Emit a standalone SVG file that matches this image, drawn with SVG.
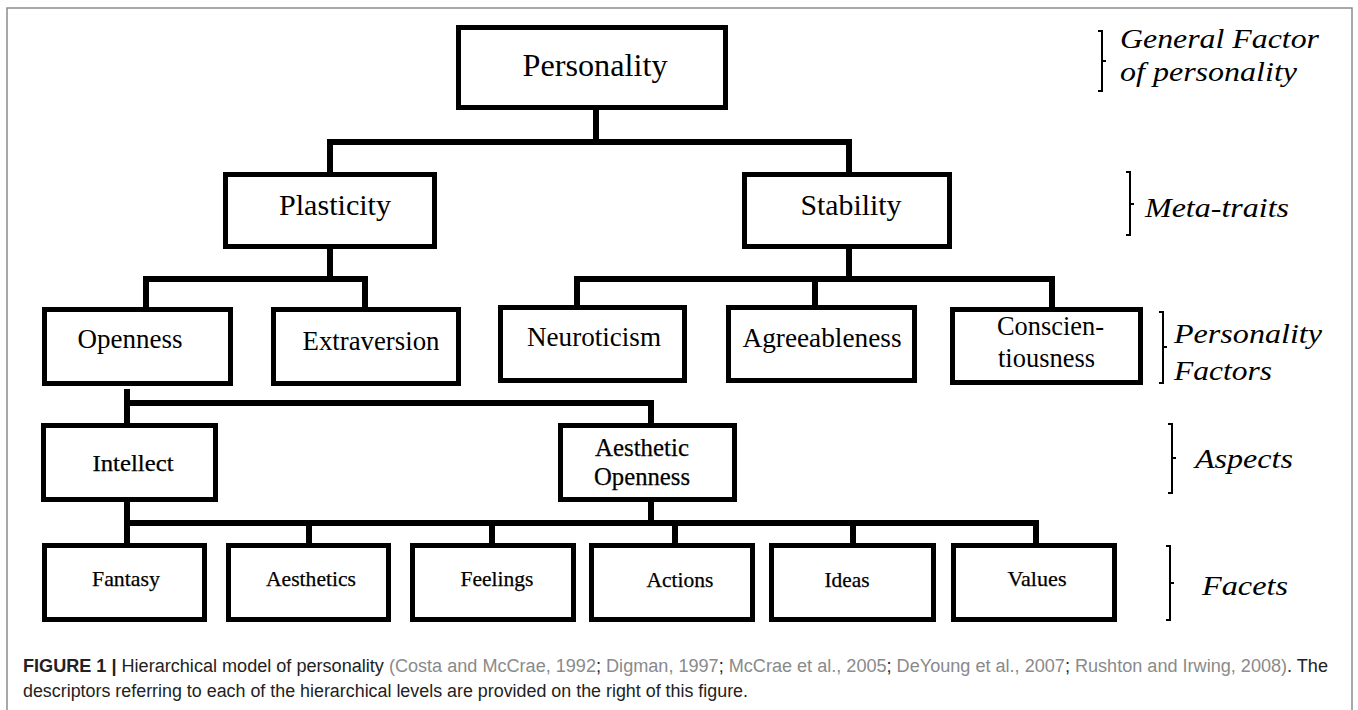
<svg xmlns="http://www.w3.org/2000/svg" width="1358" height="710" viewBox="0 0 1358 710">
<style>
.box{fill:#fff;stroke:#000;stroke-width:5}
.con{fill:none;stroke:#000;stroke-width:6;stroke-linecap:butt}
.bk{fill:none;stroke:#000;stroke-width:2}
.t1{font-family:"Liberation Serif","Times New Roman",serif;fill:#000;text-anchor:middle}
.t2{font-family:"Liberation Serif","Times New Roman",serif;fill:#000;text-anchor:middle;stroke:#000;stroke-width:0.25}
.lab{font-family:"Liberation Serif","Times New Roman",serif;font-style:italic;font-size:28px;fill:#000}
.cap{font-family:"Liberation Sans",Arial,sans-serif;font-size:18px;fill:#222}
.lnk{fill:#8a8a8a}
</style>
<rect width="1358" height="710" fill="#fff"/>
<path d="M7,712 V8 H1352 V712" fill="none" stroke="#8c8c8c" stroke-width="1.5"/>

<g id="connectors">
<path class="con" d="M596,110 V142 M327,142 H852 M330,142 V172 M849,142 V172"/>
<path class="con" d="M330,249 V279 M143,279 H368 M146,279 V307 M365,279 V307"/>
<path class="con" d="M849,249 V279 M574,279 H1055 M577,279 V305 M815,279 V305 M1052,279 V307"/>
<path class="con" d="M127,389 V423 M124,403 H654 M651,403 V423"/>
<path class="con" d="M127,502 V543 M124,523 H1039 M651,502 V523 M309,523 V543 M492,523 V543 M675,523 V543 M853,523 V543 M1036,523 V543"/>
</g>

<g id="personality"><rect class="box" x="458.5" y="27.5" width="267" height="80"/><text class="t1" x="595" y="76" font-size="32" textLength="145" lengthAdjust="spacingAndGlyphs">Personality</text></g>

<g id="plasticity"><rect class="box" x="225.5" y="174.5" width="209" height="72"/><text class="t1" x="335" y="215" font-size="30" textLength="112" lengthAdjust="spacingAndGlyphs">Plasticity</text></g>
<g id="stability"><rect class="box" x="744.5" y="174.5" width="205" height="72"/><text class="t1" x="851" y="215" font-size="30" textLength="101" lengthAdjust="spacingAndGlyphs">Stability</text></g>

<g id="openness"><rect class="box" x="44.5" y="309.5" width="186" height="74"/><text class="t1" x="130" y="348" font-size="27" textLength="105" lengthAdjust="spacingAndGlyphs">Openness</text></g>
<g id="extraversion"><rect class="box" x="273.5" y="309.5" width="185" height="74"/><text class="t1" x="371" y="350" font-size="27" textLength="137" lengthAdjust="spacingAndGlyphs">Extraversion</text></g>
<g id="neuroticism"><rect class="box" x="500.5" y="307.5" width="184" height="73"/><text class="t1" x="594" y="346" font-size="27" textLength="134" lengthAdjust="spacingAndGlyphs">Neuroticism</text></g>
<g id="agreeableness"><rect class="box" x="728.5" y="307.5" width="186" height="73"/><text class="t1" x="822" y="347" font-size="27" textLength="159" lengthAdjust="spacingAndGlyphs">Agreeableness</text></g>
<g id="conscientiousness"><rect class="box" x="952.5" y="309.5" width="188" height="73"/><text class="t1" x="997" y="335" font-size="27" style="text-anchor:start" textLength="107" lengthAdjust="spacingAndGlyphs">Conscien-</text><text class="t1" x="998" y="367" font-size="27" style="text-anchor:start" textLength="97" lengthAdjust="spacingAndGlyphs">tiousness</text></g>

<g id="intellect"><rect class="box" x="43.5" y="425.5" width="172" height="74"/><text class="t2" x="133" y="471" font-size="24" textLength="81" lengthAdjust="spacingAndGlyphs">Intellect</text></g>
<g id="aesthetic-openness"><rect class="box" x="560.5" y="425.5" width="174" height="74"/><text class="t2" x="642" y="456" font-size="25" textLength="94" lengthAdjust="spacingAndGlyphs">Aesthetic</text><text class="t2" x="642" y="485" font-size="25" textLength="96" lengthAdjust="spacingAndGlyphs">Openness</text></g>

<g id="fantasy"><rect class="box" x="44.5" y="545.5" width="160" height="74"/><text class="t2" x="126" y="586" font-size="22" textLength="68" lengthAdjust="spacingAndGlyphs">Fantasy</text></g>
<g id="aesthetics"><rect class="box" x="228.5" y="545.5" width="160" height="74"/><text class="t2" x="311" y="586" font-size="22" textLength="90" lengthAdjust="spacingAndGlyphs">Aesthetics</text></g>
<g id="feelings"><rect class="box" x="412.5" y="545.5" width="161" height="74"/><text class="t2" x="497" y="586" font-size="22" textLength="73" lengthAdjust="spacingAndGlyphs">Feelings</text></g>
<g id="actions"><rect class="box" x="591.5" y="545.5" width="161" height="74"/><text class="t2" x="680" y="587" font-size="22" textLength="67" lengthAdjust="spacingAndGlyphs">Actions</text></g>
<g id="ideas"><rect class="box" x="771.5" y="545.5" width="162" height="74"/><text class="t2" x="847" y="587" font-size="22" textLength="45" lengthAdjust="spacingAndGlyphs">Ideas</text></g>
<g id="values"><rect class="box" x="953.5" y="545.5" width="161" height="74"/><text class="t2" x="1037" y="586" font-size="22" textLength="59" lengthAdjust="spacingAndGlyphs">Values</text></g>

<g id="levels">
<path class="bk" d="M1098,31 H1102 V91 H1098 M1102,61 H1106"/>
<path class="bk" d="M1126,172 H1130 V235 H1126 M1130,204 H1134"/>
<path class="bk" d="M1159,312 H1163 V383 H1159 M1163,347 H1167"/>
<path class="bk" d="M1168,424 H1172 V493 H1168 M1172,458 H1176"/>
<path class="bk" d="M1166,546 H1170 V620 H1166 M1170,583 H1174"/>
<text class="lab" x="1120" y="48" textLength="199" lengthAdjust="spacingAndGlyphs">General Factor</text>
<text class="lab" x="1120" y="81" textLength="177" lengthAdjust="spacingAndGlyphs">of personality</text>
<text class="lab" x="1145" y="217" textLength="144" lengthAdjust="spacingAndGlyphs">Meta-traits</text>
<text class="lab" x="1174" y="343" textLength="148" lengthAdjust="spacingAndGlyphs">Personality</text>
<text class="lab" x="1174" y="380" textLength="98" lengthAdjust="spacingAndGlyphs">Factors</text>
<text class="lab" x="1195" y="468" textLength="98" lengthAdjust="spacingAndGlyphs">Aspects</text>
<text class="lab" x="1202" y="595" textLength="86" lengthAdjust="spacingAndGlyphs">Facets</text>
</g>

<g id="caption">
<text class="cap" x="23" y="672" textLength="1305" lengthAdjust="spacingAndGlyphs"><tspan font-weight="bold">FIGURE 1 |</tspan> Hierarchical model of personality <tspan class="lnk">(Costa and McCrae, 1992</tspan>; <tspan class="lnk">Digman, 1997</tspan>; <tspan class="lnk">McCrae et al., 2005</tspan>; <tspan class="lnk">DeYoung et al., 2007</tspan>; <tspan class="lnk">Rushton and Irwing, 2008)</tspan>. The</text>
<text class="cap" x="23" y="697" textLength="725" lengthAdjust="spacingAndGlyphs">descriptors referring to each of the hierarchical levels are provided on the right of this figure.</text>
</g>
</svg>
